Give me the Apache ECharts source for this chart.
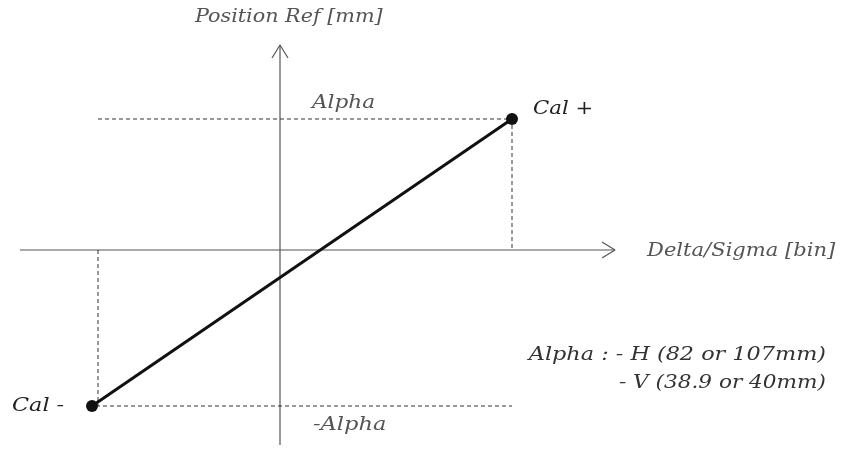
<!DOCTYPE html>
<html>
<head>
<meta charset="utf-8">
<script src="https://cdn.jsdelivr.net/npm/echarts@6/dist/echarts.min.js"></script>
<style>
  html, body { margin: 0; padding: 0; background: #fff; }
  #main { width: 844px; height: 449px; }
</style>
</head>
<body>
<div id="main"></div>
<script>
// schematic units: origin at the axis crossing
var calPoints = [[-1.88, -1.56], [2.32, 1.31]];   // Cal -, Cal +
var xAxisLine = [[-2.60, 0], [3.35, 0]];
var yAxisLine = [[0, -1.95], [0, 2.05]];
var xArrow = [[3.22, 0.08], [3.35, 0], [3.22, -0.08]];
var yArrow = [[-0.08, 1.92], [0, 2.05], [0.08, 1.92]];
var alphaGuide = [[-1.82, 1.31], [2.32, 1.31], [2.32, 0]];
var minusAlphaGuide = [[-1.82, 0], [-1.82, -1.56], [2.32, -1.56]];

var font = 'DejaVu Serif';
var grey = '#555';

function plain(name, data, color, width, dash) {
    return {
        name: name,
        type: 'line',
        data: data,
        symbol: 'none',
        silent: true,
        lineStyle: { color: color, width: width, type: dash || 'solid' },
        z: 2
    };
}

// the original font is wider than DejaVu, so stretch a bit
function txt(x, y, text, opts) {
    opts = opts || {};
    return {
        type: 'text',
        x: x, y: y,
        scaleX: opts.sx || 1.2,
        style: {
            text: text,
            fill: opts.color || grey,
            font: 'italic ' + (opts.size || 18) + 'px "' + font + '"',
            align: opts.align || 'left',
            verticalAlign: 'middle'
        }
    };
}

var myChart = echarts.init(document.getElementById('main'));
myChart.setOption({
    animation: false,
    grid: { left: 0, right: 0, top: 0, bottom: 0 },
    xAxis: { type: 'value', min: -2.80, max: 5.64, show: false },
    yAxis: { type: 'value', min: -1.99, max: 2.50, show: false },
    series: [
        plain('x axis', xAxisLine, grey, 1.2),
        plain('y axis', yAxisLine, grey, 1.2),
        plain('x arrow', xArrow, grey, 1.2),
        plain('y arrow', yArrow, grey, 1.2),
        plain('alpha', alphaGuide, '#333', 1, [4, 3]),
        plain('-alpha', minusAlphaGuide, '#333', 1, [4, 3]),
        {
            name: 'cal',
            type: 'line',
            data: calPoints,
            symbol: 'circle',
            symbolSize: 12,
            itemStyle: { color: '#111' },
            lineStyle: { color: '#111', width: 3 },
            z: 5
        }
    ],
    graphic: [
        txt(195, 17, 'Position Ref [mm]', { sx: 1.15 }),
        txt(312, 103, 'Alpha'),
        txt(533, 109, 'Cal +', { color: '#222', sx: 1.18 }),
        txt(647, 251, 'Delta/Sigma [bin]', { sx: 1.17 }),
        txt(826, 355, 'Alpha : - H (82 or 107mm)', { align: 'right', color: '#333', sx: 1.24 }),
        txt(826, 383, '- V (38.9 or 40mm)', { align: 'right', color: '#333' }),
        txt(12, 406, 'Cal -', { color: '#222', sx: 1.24 }),
        txt(313, 425, '-Alpha', { sx: 1.25 })
    ]
});
</script>
</body>
</html>
